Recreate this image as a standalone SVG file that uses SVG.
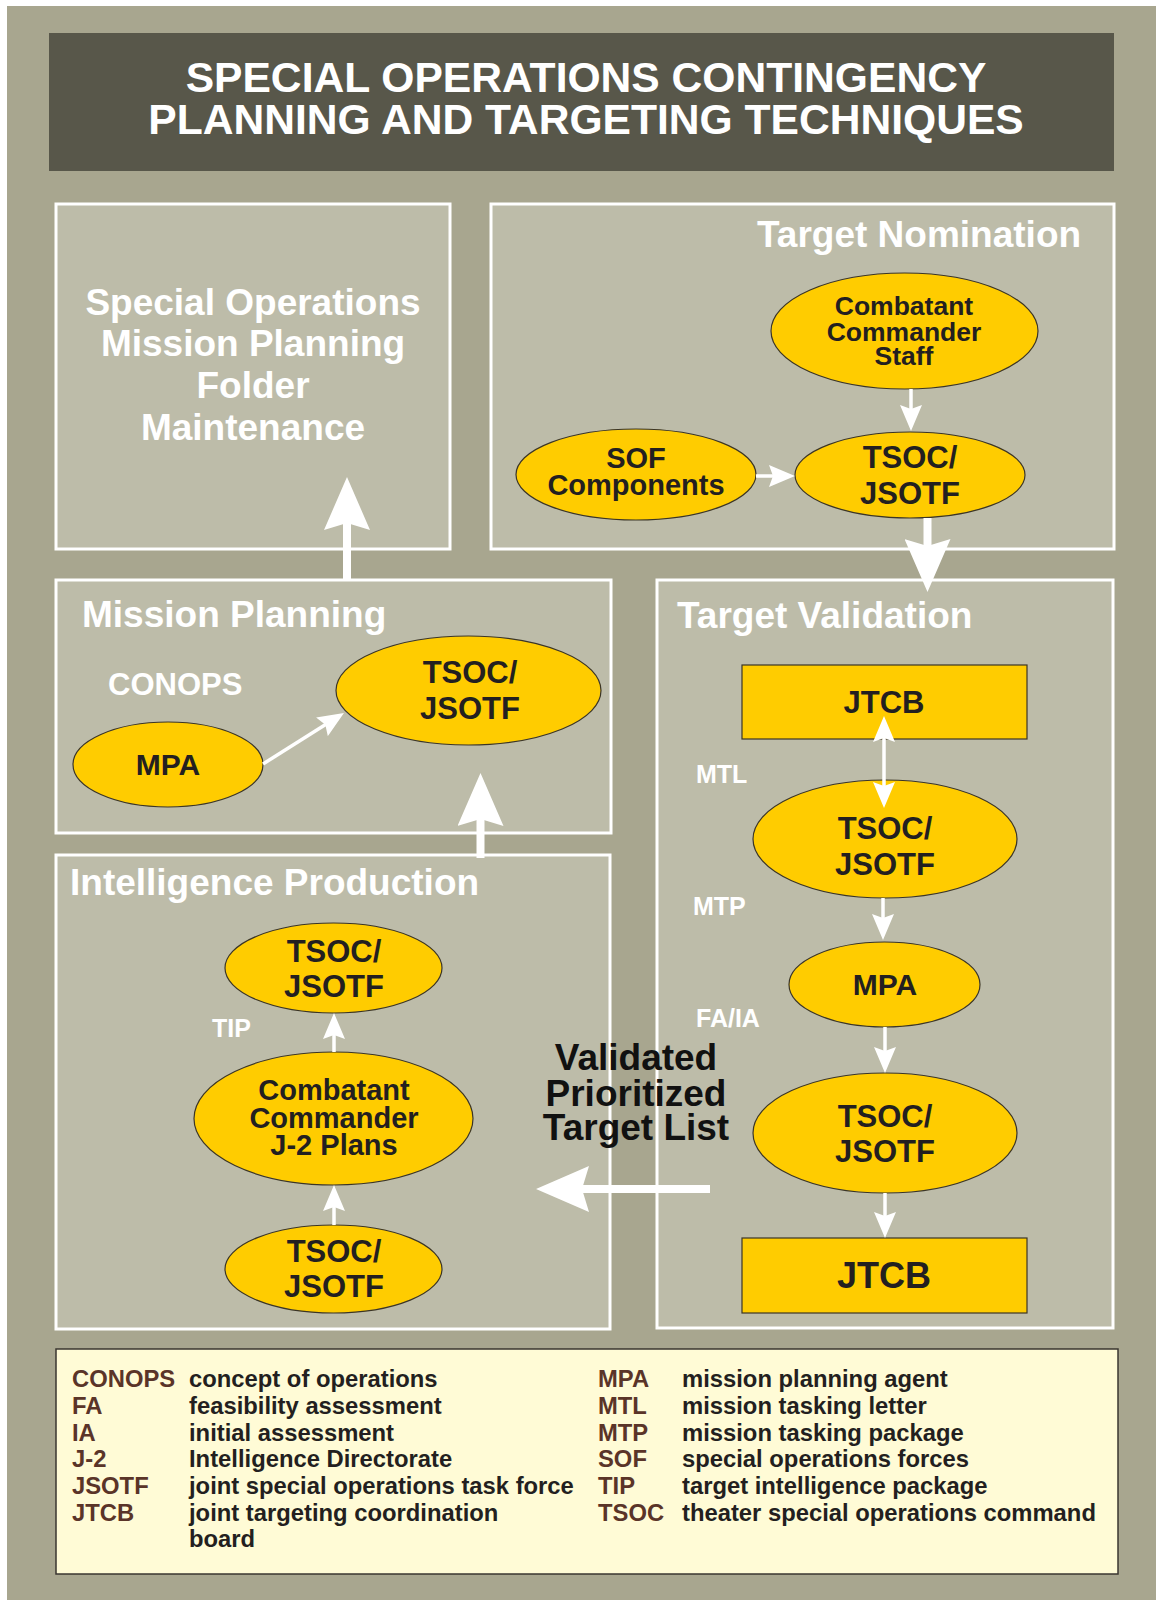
<svg xmlns="http://www.w3.org/2000/svg" width="1156" height="1600" viewBox="0 0 1156 1600">
<style>
text{font-family:"Liberation Sans",Arial,Helvetica,sans-serif;font-weight:bold}
.bg{fill:#a8a68f}
.title{fill:#58574a}
.ttl{fill:#ffffff;font-size:42.6px;text-anchor:middle}
.panel{fill:#bdbca9;stroke:#ffffff;stroke-width:3}
.hdr{fill:#ffffff;font-size:37px}
.hdrc{fill:#ffffff;font-size:37px;text-anchor:middle}
.node{fill:#ffcc00;stroke:#3b3526;stroke-width:1.2}
.nt{fill:#231f20;text-anchor:middle}
.lbl{fill:#ffffff;font-size:25px}
.conn{stroke:#ffffff;stroke-width:3.5;fill:none}
.big{stroke:#ffffff;stroke-width:8;fill:none}
.vtl{fill:#111111;font-size:37px;text-anchor:middle}
.legend{fill:#fffbd6;stroke:#3a3630;stroke-width:1.5}
.ab{fill:#5a3428;font-size:23.8px}
.df{fill:#231f20;font-size:23.8px}
</style>
<defs>
<marker id="ah" markerUnits="userSpaceOnUse" viewBox="0 0 26 22" markerWidth="26" markerHeight="22" refX="16" refY="11" orient="auto-start-reverse">
<path d="M0,0 L26,11 L0,22 L4,11 Z" fill="#ffffff"/>
</marker>
<marker id="bh" markerUnits="userSpaceOnUse" viewBox="0 0 53 46" markerWidth="53" markerHeight="46" refX="10" refY="23" orient="auto">
<path d="M0,0 L53,23 L0,46 L7,23 Z" fill="#ffffff"/>
</marker>
</defs>

<rect class="bg" x="7" y="6" width="1149" height="1594"/>

<g id="title">
<rect class="title" x="49" y="33" width="1065" height="138"/>
<text class="ttl" x="586" y="92">SPECIAL OPERATIONS CONTINGENCY</text>
<text class="ttl" x="586" y="134">PLANNING AND TARGETING TECHNIQUES</text>
</g>

<g id="panel-sompf">
<rect class="panel" x="56" y="204" width="394" height="345"/>
<text class="hdrc" x="253" y="315">Special Operations</text>
<text class="hdrc" x="253" y="356">Mission Planning</text>
<text class="hdrc" x="253" y="398">Folder</text>
<text class="hdrc" x="253" y="440">Maintenance</text>
</g>

<g id="panel-nomination">
<rect class="panel" x="491" y="204" width="623" height="345"/>
<text class="hdr" x="757" y="247">Target Nomination</text>
</g>

<g id="panel-mission">
<rect class="panel" x="56" y="580" width="555" height="253"/>
<text class="hdr" x="82" y="627">Mission Planning</text>
</g>

<g id="panel-validation">
<rect class="panel" x="657" y="580" width="456" height="748"/>
<text class="hdr" x="677" y="628">Target Validation</text>
</g>

<g id="panel-intel">
<rect class="panel" x="56" y="855" width="554" height="474"/>
<text class="hdr" x="70" y="895">Intelligence Production</text>
</g>

<g id="n-ccstaff">
<ellipse class="node" cx="904.5" cy="331" rx="133.5" ry="58"/>
<text class="nt" x="904" y="315" font-size="26.5">Combatant</text>
<text class="nt" x="904" y="341" font-size="26.5">Commander</text>
<text class="nt" x="904" y="365" font-size="26.5">Staff</text>
</g>

<g id="n-sof">
<ellipse class="node" cx="636" cy="474.5" rx="120" ry="45.5"/>
<text class="nt" x="636" y="468" font-size="29">SOF</text>
<text class="nt" x="636" y="495" font-size="29">Components</text>
</g>

<g id="n-tsoc-nom">
<ellipse class="node" cx="910" cy="475" rx="115" ry="43"/>
<text class="nt" x="910" y="468" font-size="31">TSOC/</text>
<text class="nt" x="910" y="504" font-size="31">JSOTF</text>
</g>

<g id="n-mpa-mission">
<ellipse class="node" cx="168" cy="764.5" rx="95" ry="42.5"/>
<text class="nt" x="168" y="775" font-size="30">MPA</text>
</g>

<g id="n-tsoc-mission">
<ellipse class="node" cx="468.5" cy="690.5" rx="132.5" ry="54.5"/>
<text class="nt" x="470" y="683" font-size="31">TSOC/</text>
<text class="nt" x="470" y="719" font-size="31">JSOTF</text>
</g>

<g id="n-jtcb-top">
<rect class="node" x="742" y="665" width="285" height="74"/>
<text class="nt" x="884" y="713" font-size="31">JTCB</text>
</g>

<g id="n-tsoc-val1">
<ellipse class="node" cx="885" cy="839" rx="132" ry="59"/>
<text class="nt" x="885" y="839" font-size="31">TSOC/</text>
<text class="nt" x="885" y="875" font-size="31">JSOTF</text>
</g>

<g id="n-mpa-val">
<ellipse class="node" cx="884.5" cy="984.5" rx="95.5" ry="42.5"/>
<text class="nt" x="885" y="995" font-size="30">MPA</text>
</g>

<g id="n-tsoc-val2">
<ellipse class="node" cx="885" cy="1133" rx="132" ry="60"/>
<text class="nt" x="885" y="1127" font-size="31">TSOC/</text>
<text class="nt" x="885" y="1162" font-size="31">JSOTF</text>
</g>

<g id="n-jtcb-bottom">
<rect class="node" x="742" y="1238" width="285" height="75"/>
<text class="nt" x="884" y="1288" font-size="36">JTCB</text>
</g>

<g id="n-tsoc-intel-top">
<ellipse class="node" cx="333.5" cy="968" rx="108.5" ry="45"/>
<text class="nt" x="334" y="962" font-size="31">TSOC/</text>
<text class="nt" x="334" y="997" font-size="31">JSOTF</text>
</g>

<g id="n-j2">
<ellipse class="node" cx="333.5" cy="1118.5" rx="139.5" ry="66.5"/>
<text class="nt" x="334" y="1100" font-size="29">Combatant</text>
<text class="nt" x="334" y="1128" font-size="29">Commander</text>
<text class="nt" x="334" y="1155" font-size="29">J-2 Plans</text>
</g>

<g id="n-tsoc-intel-bottom">
<ellipse class="node" cx="333.5" cy="1269" rx="108.5" ry="44"/>
<text class="nt" x="334" y="1262" font-size="31">TSOC/</text>
<text class="nt" x="334" y="1297" font-size="31">JSOTF</text>
</g>

<g id="connectors">
<line class="conn" x1="911" y1="389" x2="911" y2="421" marker-end="url(#ah)"/>
<line class="conn" x1="756" y1="476" x2="785" y2="476" marker-end="url(#ah)"/>
<line class="big" x1="927.5" y1="518" x2="927.5" y2="549" marker-end="url(#bh)"/>
<line class="conn" x1="884" y1="726" x2="884" y2="798" marker-start="url(#ah)" marker-end="url(#ah)"/>
<line class="conn" x1="883" y1="898" x2="883" y2="930" marker-end="url(#ah)"/>
<line class="conn" x1="885" y1="1027" x2="885" y2="1063" marker-end="url(#ah)"/>
<line class="conn" x1="885" y1="1193" x2="885" y2="1228" marker-end="url(#ah)"/>
<line class="big" x1="710" y1="1189" x2="579" y2="1189" marker-end="url(#bh)"/>
<line class="conn" x1="334" y1="1052" x2="334" y2="1023" marker-end="url(#ah)"/>
<line class="conn" x1="334" y1="1225" x2="334" y2="1195" marker-end="url(#ah)"/>
<line class="big" x1="480.5" y1="858" x2="480.5" y2="816" marker-end="url(#bh)"/>
<line class="conn" x1="263" y1="764" x2="335.5" y2="718.3" marker-end="url(#ah)"/>
<line class="big" x1="347" y1="580" x2="347" y2="520" marker-end="url(#bh)"/>
</g>

<g id="labels">
<text class="lbl" x="108" y="695" style="font-size:31px">CONOPS</text>
<text class="lbl" x="696" y="783">MTL</text>
<text class="lbl" x="693" y="915">MTP</text>
<text class="lbl" x="696" y="1027">FA/IA</text>
<text class="lbl" x="212" y="1037">TIP</text>
<text class="vtl" x="636" y="1070">Validated</text>
<text class="vtl" x="636" y="1106">Prioritized</text>
<text class="vtl" x="636" y="1140">Target List</text>
</g>

<g id="legend">
<rect class="legend" x="56" y="1349" width="1062" height="225"/>
<text class="ab" x="72" y="1387">CONOPS</text><text class="df" x="189" y="1387">concept of operations</text>
<text class="ab" x="72" y="1414">FA</text><text class="df" x="189" y="1414">feasibility assessment</text>
<text class="ab" x="72" y="1441">IA</text><text class="df" x="189" y="1441">initial assessment</text>
<text class="ab" x="72" y="1467">J-2</text><text class="df" x="189" y="1467">Intelligence Directorate</text>
<text class="ab" x="72" y="1494">JSOTF</text><text class="df" x="189" y="1494">joint special operations task force</text>
<text class="ab" x="72" y="1521">JTCB</text><text class="df" x="189" y="1521">joint targeting coordination</text>
<text class="df" x="189" y="1547">board</text>
<text class="ab" x="598" y="1387">MPA</text><text class="df" x="682" y="1387">mission planning agent</text>
<text class="ab" x="598" y="1414">MTL</text><text class="df" x="682" y="1414">mission tasking letter</text>
<text class="ab" x="598" y="1441">MTP</text><text class="df" x="682" y="1441">mission tasking package</text>
<text class="ab" x="598" y="1467">SOF</text><text class="df" x="682" y="1467">special operations forces</text>
<text class="ab" x="598" y="1494">TIP</text><text class="df" x="682" y="1494">target intelligence package</text>
<text class="ab" x="598" y="1521">TSOC</text><text class="df" x="682" y="1521">theater special operations command</text>
</g>
</svg>
